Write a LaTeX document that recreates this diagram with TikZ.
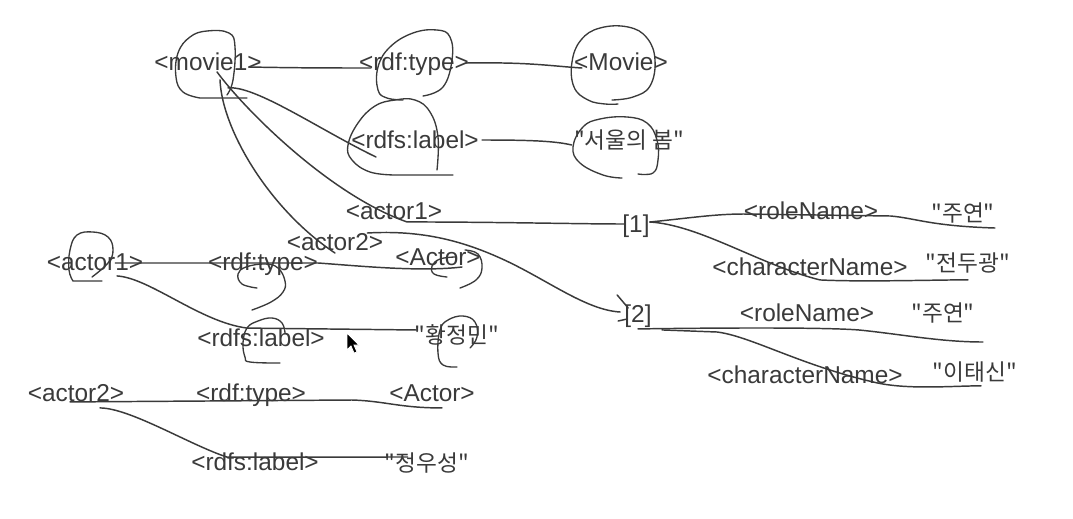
\documentclass[tikz,border=0pt]{standalone}
\usepackage{fontspec}
\setmainfont{Liberation Sans}
\newfontfamily\krfont{Noto Sans CJK KR}
\usetikzlibrary{calc}
\definecolor{ink}{HTML}{3A3A3A}
\tikzset{
  every picture/.style={font=\fontsize{18.3}{22}\selectfont},
  term/.style={text=ink,inner sep=0pt,text height=13pt,text depth=0pt},
  hangul/.style={term,font=\krfont\fontsize{17}{20}\selectfont,text height=12.8pt},
  pen/.style={draw=ink,line width=1.1pt,line cap=round,line join=round},
  ring/.style={pen,line width=1pt},
}

\begin{document}
\begin{tikzpicture}[x=0.75pt,y=-0.75pt]
  \fill[white] (0,0) rectangle (1073,518);
  \useasboundingbox (0,0) rectangle (1073,518);

  % terms of the graph
  \node[term] (movie1) at (208,62) {<movie1>};
  \node[term] (type1) at (414,62) {<rdf:type>};
  \node[term] (movieCls) at (621,62) {<Movie>};
  \node[term] (label1) at (415,140) {<rdfs:label>};
  \node[hangul] (title) at (629,140) {"서울의 봄"};
  \node[term] (actorA) at (394,211) {<actor1>};
  \node[term] (blank1) at (636,224) {[1]};
  \node[term] (role1) at (811,211) {<roleName>};
  \node[hangul] (roleVal1) at (963,213) {"주연"};
  \node[term] (char1) at (810,267) {<characterName>};
  \node[hangul] (charVal1) at (968,263) {"전두광"};
  \node[term] (actorB) at (335,242) {<actor2>};
  \node[term] (actorCls1) at (438,257) {<Actor>};
  \node[term] (a1) at (95,262) {<actor1>};
  \node[term] (type2) at (263,262) {<rdf:type>};
  \node[term] (blank2) at (638,314) {[2]};
  \node[term] (role2) at (807,313) {<roleName>};
  \node[hangul] (roleVal2) at (943,313) {"주연"};
  \node[term] (label2) at (261,338) {<rdfs:label>};
  \node[hangul] (name1) at (457,335) {"황정민"};
  \node[term] (char2) at (805,375) {<characterName>};
  \node[hangul] (charVal2) at (975,372) {"이태신"};
  \node[term] (a2) at (76,393) {<actor2>};
  \node[term] (type3) at (251,393) {<rdf:type>};
  \node[term] (actorCls2) at (432,393) {<Actor>};
  \node[term] (label3) at (255,462) {<rdfs:label>};
  \node[hangul] (name2) at (427,463) {"정우성"};

  % movie1
  \draw[pen] ($(movie1.east)+(-13,5)$) .. controls (300,68) and (335,68) .. ($(type1.west)+(12,6)$);
  \draw[pen] ($(type1.east)+(-3,1)$) .. controls (530,62) and (550,66) .. ($(movieCls.west)+(8,6)$);
  \draw[pen] ($(label1.east)+(3,0)$) .. controls (530,140) and (555,141) .. ($(title.west)+(-2,5)$);
  \draw[pen] ($(movie1.south)+(20,17)$) .. controls (255,85) and (320,130) .. ($(label1.west)+(25,17)$);
  \draw[pen] ($(movie1.south)+(9,1)$) .. controls (245,110) and (330,195) .. ($(actorA.south)+(13,2)$)
    .. controls (500,222) and (580,224) .. ($(blank1.west)+(2,0)$);
  \draw[pen] ($(movie1.south)+(12,9)$) .. controls (222,130) and (270,210) .. ($(actorB.center)+(0,11)$);
  \draw[pen] ($(actorB.east)+(-16,-9)$) .. controls (420,230) and (460,240) .. (500,258)
    .. controls (545,278) and (585,310) .. ($(blank2.west)+(-4,-2)$);
  \draw[pen] ($(blank2.west)+(-7,-19)$) -- ($(blank2.west)+(4,-6)$);
  \draw[pen] ($(blank2.west)+(-6,7)$) -- ($(blank2.west)+(3,5)$);

  % [1] and [2]
  \draw[pen] ($(blank1.east)+(0,-2)$) .. controls (690,218) and (715,214) .. ($(role1.west)+(0,3)$)
    -- ($(role1.east)+(12,5)$) .. controls (915,218) and (930,226) .. ($(roleVal1.east)+(0,15)$);
  \draw[pen] ($(blank1.east)+(0,-2)$) .. controls (700,225) and (760,265) .. ($(char1.south)+(10,4)$)
    .. controls (860,282) and (930,280) .. ($(charVal1.south)+(0,8)$);
  \draw[pen] ($(blank2.south)+(0,6)$) .. controls (700,328) and (820,327) .. ($(role2.south east)+(-16,8)$)
    .. controls (900,334) and (940,342) .. ($(roleVal2.east)+(8,29)$);
  \draw[pen] ($(blank2.south)+(24,7)$) -- (717,332) .. controls (750,336) and (800,365) .. ($(char2.south)+(68,-2)$)
    .. controls (905,390) and (950,386) .. ($(charVal2.south)+(6,5)$);

  % actor1, actor2
  \draw[pen] ($(a1.east)+(-28,1)$) -- ($(type2.east)+(0,1)$) .. controls (360,266) and (420,272) .. ($(actorCls1.east)+(-19,10)$);
  \draw[pen] ($(a1.south)+(22,5)$) .. controls (150,278) and (200,322) .. ($(label2.north)+(-14,-1)$)
    -- ($(name1.west)+(3,-5)$);
  \draw[pen] ($(a2.south)+(-6,0)$) -- ($(actorCls2.west)+(-37,7)$) .. controls (385,401) and (400,408) .. ($(actorCls2.south)+(10,6)$);
  \draw[pen] ($(a2.south)+(24,6)$) .. controls (130,408) and (190,445) .. ($(label3.north)+(-28,4)$)
    -- ($(name2.west)+(23,-6)$);

  % circled by hand
  \draw[ring] plot[smooth,tension=0.7] coordinates {(227,95) (233,80) (235,47) (229,33) (207,31) (190,37) (178,53) (176,77) (183,92) (200,98)} -- (247,98);
  \draw[ring] plot[smooth,tension=0.7] coordinates {(423,96) (443,87) (452,60) (450,37) (437,30) (413,33) (390,47) (378,67) (378,90) (387,98) (403,100)};
  \draw[ring] plot[smooth,tension=0.7] coordinates {(437,170) (438,137) (430,112) (415,100) (395,100) (375,106) (358,123) (348,145) (352,160) (370,172) (395,175)} -- (453,175);
  \draw[ring] plot[smooth,tension=0.7] coordinates {(612,100) (633,97) (650,86) (655,60) (647,38) (628,27) (600,28) (581,40) (572,62) (574,87) (588,100) (605,104) (618,104)};
  \draw[ring] plot[smooth,tension=0.7] coordinates {(638,174) (653,173) (658,160) (657,140) (647,123) (627,117) (600,119) (583,127) (573,147) (580,163) (603,175) (622,178)};
  \draw[ring] plot[smooth,tension=0.7] coordinates {(92,277) (108,263) (113,250) (108,237) (93,232) (77,235) (70,250) (69,270) (73,281)} -- (102,281);
  \draw[ring] plot[smooth,tension=0.7] coordinates {(257,288) (242,284) (238,274) (246,267) (265,264) (278,268) (285,281) (283,292) (271,302) (252,310)};
  \draw[ring] plot[smooth,tension=0.7] coordinates {(447,277) (434,274) (432,266) (440,259) (455,257)};
  \draw[ring] plot[smooth,tension=0.7] coordinates {(465,250) (478,254) (482,268) (476,280) (460,288)};
  \draw[ring] plot[smooth,tension=0.7] coordinates {(280,363) (250,362) (245,357) (243,343) (247,328) (258,321) (272,318) (282,323) (285,333)};
  \draw[ring] plot[smooth,tension=0.7] coordinates {(457,367) (443,365) (438,353) (440,330) (448,320) (463,316) (475,322) (477,337) (470,348)};

  % pointer
  \filldraw[fill=black,draw=white,line width=0.6pt] (347,333) -- (347,350) -- (351,346) -- (354,353) -- (357,352) -- (354,345) -- (359,345) -- cycle;
\end{tikzpicture}
\end{document}
